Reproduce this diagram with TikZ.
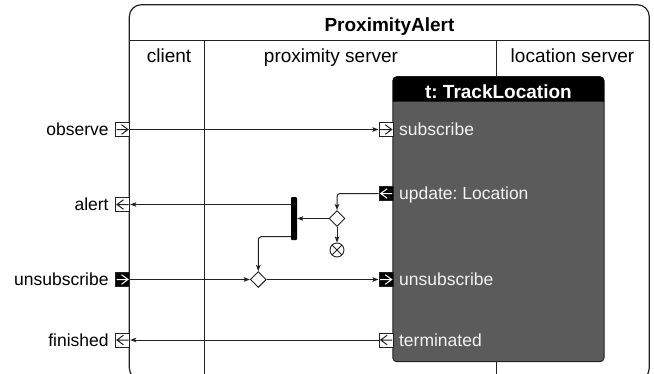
\documentclass[tikz,border=0pt]{standalone}
\usepackage{fontspec}
\setmainfont{Liberation Sans}
\usetikzlibrary{arrows.meta,shapes.geometric,calc}
\frenchspacing

\definecolor{framecol}{HTML}{222222}
\definecolor{bodygray}{HTML}{5B5B5B}
\definecolor{bodytext}{HTML}{F2F2F2}

% arrow glyphs drawn inside the pin squares
\newcommand\glyphR[1]{%
  \draw[#1, line width=1pt, line cap=butt]
    ([xshift=-6pt]path picture bounding box.center) -- ([xshift=5.5pt]path picture bounding box.center)
    ([shift={(-1pt,4.8pt)}]path picture bounding box.center) -- ([xshift=5.5pt]path picture bounding box.center)
    -- ([shift={(-1pt,-4.8pt)}]path picture bounding box.center);}
\newcommand\glyphL[1]{%
  \draw[#1, line width=1pt, line cap=butt]
    ([xshift=6pt]path picture bounding box.center) -- ([xshift=-5.5pt]path picture bounding box.center)
    ([shift={(1pt,4.8pt)}]path picture bounding box.center) -- ([xshift=-5.5pt]path picture bounding box.center)
    -- ([shift={(1pt,-4.8pt)}]path picture bounding box.center);}

\tikzset{
  frameline/.style={draw=framecol, line width=1.2pt},
  flow/.style={draw=framecol, line width=1pt, rounded corners=3pt,
               -{Stealth[length=6pt,width=4.5pt,inset=1.2pt]}},
  pinbox/.style={rectangle, draw=framecol, line width=0.9pt,
                 minimum width=14.5pt, minimum height=14pt, inner sep=0pt},
  pininR/.style={pinbox, fill=white, path picture={\glyphR{framecol}}},
  pinoutL/.style={pinbox, fill=white, path picture={\glyphL{framecol}}},
  pinblkR/.style={pinbox, fill=black, path picture={\glyphR{white}}},
  pinblkL/.style={pinbox, fill=black, path picture={\glyphL{white}}},
  plabel/.style={inner sep=0pt, font=\fontsize{17.5}{20}\selectfont, text=black},
  blabel/.style={inner sep=0pt, font=\fontsize{17.5}{20}\selectfont, text=bodytext},
  lanelabel/.style={inner sep=0pt, font=\fontsize{19}{22}\selectfont, text=black},
  gate/.style={diamond, draw=framecol, fill=white, line width=0.9pt,
               minimum width=16pt, minimum height=16pt, inner sep=0pt},
}

\begin{document}
\begin{tikzpicture}[x=1pt,y=-1pt]
  \useasboundingbox (0,0) rectangle (654,373);

  % activity frame with title band and partitions
  \draw[frameline, rounded corners=12pt] (129.3,4.7) rectangle (649.3,380);
  \draw[frameline] (129.3,40.7) -- (649.3,40.7);
  \draw[frameline] (204.3,40.7) -- (204.3,380);
  \draw[frameline] (496.7,40.7) -- (496.7,380);

  \node[inner sep=0pt, font=\bfseries\fontsize{19}{22}\selectfont, anchor=base] (title) at (389.5,31) {ProximityAlert};
  \node[lanelabel, anchor=base] (lclient) at (169,62) {client};
  \node[lanelabel, anchor=base] (lprox) at (331,62) {proximity server};
  \node[lanelabel, anchor=base] (lloc) at (572.5,62) {location server};

  % called behaviour: t: TrackLocation
  \path[fill=bodygray, draw=framecol, line width=1pt, rounded corners=4pt]
    (392.8,76.7) rectangle (604,361.7);
  \fill[black] (392.8,101.7) [rounded corners=4pt] -- (392.8,76.7) -- (604,76.7) [sharp corners] -- (604,101.7) -- cycle;
  \node[inner sep=0pt, font=\bfseries\fontsize{19}{22}\selectfont, text=white, anchor=base] (tltitle) at (498.4,98.5) {t: TrackLocation};

  % parameter pins on the frame
  \node[pininR]  (pobs)   at (122.5,129.5) {};
  \node[pinoutL] (palert) at (122.5,204.5) {};
  \node[pinblkR] (punsub) at (122.5,279.5) {};
  \node[pinoutL] (pfin)   at (122.5,340)   {};

  \node[plabel, anchor=base east] (tobs)   at ([xshift=-6pt,yshift=-6pt]pobs.west)   {observe};
  \node[plabel, anchor=base east] (talert) at ([xshift=-6pt,yshift=-6pt]palert.west) {alert};
  \node[plabel, anchor=base east] (tunsub) at ([xshift=-6pt,yshift=-6pt]punsub.west) {unsubscribe};
  \node[plabel, anchor=base east] (tfin)   at ([xshift=-6pt,yshift=-6pt]pfin.west)   {finished};

  % pins on the called behaviour
  \node[pininR]  (qsub)   at (386.2,129.5) {};
  \node[pinblkL] (qupd)   at (386.2,193.5) {};
  \node[pinblkR] (qunsub) at (386.2,279.5) {};
  \node[pinoutL] (qterm)  at (386.2,340)   {};

  \node[blabel, anchor=base west] (usub)   at ([xshift=5pt,yshift=-6pt]qsub.east)   {subscribe};
  \node[blabel, anchor=base west] (uupd)   at ([xshift=5pt,yshift=-6pt]qupd.east)   {update: Location};
  \node[blabel, anchor=base west] (uunsub) at ([xshift=5pt,yshift=-6pt]qunsub.east) {unsubscribe};
  \node[blabel, anchor=base west] (uterm)  at ([xshift=5pt,yshift=-6pt]qterm.east)  {terminated};

  % control nodes in the proximity server partition
  \node[rectangle, fill=black, rounded corners=1pt, minimum width=6pt, minimum height=43pt, inner sep=0pt] (fork) at (294,218.5) {};
  \node[gate] (dec) at (337,218.5) {};
  \node[circle, draw=framecol, fill=white, line width=0.9pt, minimum size=14pt, inner sep=0pt,
        path picture={\draw[framecol, line width=0.9pt]
          ([shift={(-5pt,-5pt)}]path picture bounding box.center) -- ([shift={(5pt,5pt)}]path picture bounding box.center)
          ([shift={(-5pt,5pt)}]path picture bounding box.center) -- ([shift={(5pt,-5pt)}]path picture bounding box.center);}]
        (fin) at (337,250) {};
  \node[gate] (mrg) at (258.3,279.5) {};
  \coordinate (forkout) at (291,236.7);

  % object flows
  \draw[flow] (pobs.east) -- (qsub.west);
  \draw[flow] (qupd.west) -| (dec.north);
  \draw[flow] (dec.west) -- (dec.west -| fork.east);
  \draw[flow] (dec.south) -- (fin.north);
  \draw[flow] (palert.east -| fork.west) -- (palert.east);
  \draw[flow] (forkout) -| (mrg.north);
  \draw[flow] (punsub.east) -- (mrg.west);
  \draw[flow] (mrg.east) -- (qunsub.west);
  \draw[flow] (qterm.west) -- (pfin.east);
\end{tikzpicture}
\end{document}
